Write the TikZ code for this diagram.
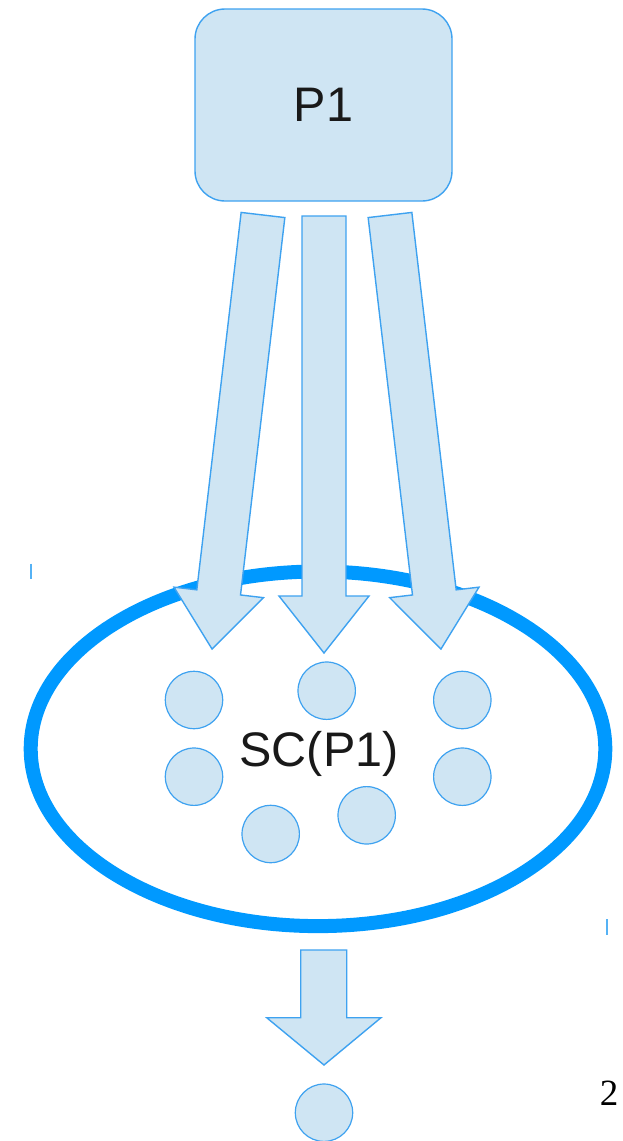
\documentclass[tikz,border=0pt]{standalone}
\usepackage{fontspec}
\setmainfont{Liberation Sans}
\newfontfamily\pagenumfont{Liberation Serif}
\usetikzlibrary{shapes.geometric}

\definecolor{paleblue}{HTML}{CFE5F3}
\definecolor{edgeblue}{HTML}{3EA2F0}
\definecolor{ringblue}{HTML}{0099FF}
\definecolor{tickblue}{HTML}{55B2F5}

\tikzset{
  shapefill/.style={fill=paleblue, draw=edgeblue, line width=1.4pt, line join=miter},
  procbox/.style={shapefill, rounded corners=30pt, minimum width=257pt, minimum height=192pt, inner sep=0pt},
  member/.style={shapefill, line width=1.2pt, circle, minimum size=57.4pt, inner sep=0pt},
  bigtext/.style={font=\fontsize{48.5}{48.5}\selectfont, text=black!90, inner sep=0pt},
  ring/.style={draw=ringblue, line width=14pt, ellipse, inner sep=0pt},
  tickmark/.style={draw=tickblue, line width=2pt},
  blockarrow/.pic={
    \draw[shapefill] (-22,0) -- (22,0) -- (22,380) -- (45,380) -- (0,437)
      -- (-45,380) -- (-22,380) -- cycle;
  },
}

\begin{document}
\begin{tikzpicture}[x=1pt, y=-1pt]
  \useasboundingbox (0,0) rectangle (622,1141);

  % process box
  \node[procbox] (p1) at (323.5,105) {};
  \node[bigtext] (p1label) at (p1.center) {P1};

  % the set around the members
  \node[ring, minimum width=574.6pt, minimum height=354.6pt] (sc) at (318,748.8) {};

  % three block arrows from the box into the set
  \pic[rotate=-6.7] (leftarrow) at (263,215) {blockarrow};
  \pic (midarrow) at (324,216) {blockarrow};
  \pic[rotate=6.7] (rightarrow) at (390,215) {blockarrow};

  % members of the set
  \node[member] (m1) at (194,700) {};
  \node[member] (m2) at (326.7,690.7) {};
  \node[member] (m3) at (462.3,700) {};
  \node[member] (m4) at (194,776.7) {};
  \node[member] (m5) at (462.3,776.7) {};
  \node[member] (m6) at (270.7,834) {};
  \node[member] (m7) at (366.7,815.3) {};
  \node[bigtext, anchor=base] (sclabel) at (319,766) {SC(P1)};

  % block arrow out of the set
  \draw[shapefill] (300.7,950) -- (346.7,950) -- (346.7,1017.7) -- (381,1017.7)
    -- (324,1065) -- (266.7,1017.7) -- (300.7,1017.7) -- cycle;
  \node[member] (out) at (324,1112.7) {};

  % small marks
  \draw[tickmark] (31.3,563.5) -- (31.3,579);
  \draw[tickmark] (606.7,919) -- (606.7,934.5);

  % page number
  \node[font=\pagenumfont\fontsize{37}{37}\selectfont, inner sep=0pt, anchor=base] (pagenum) at (609.2,1105) {2};
\end{tikzpicture}
\end{document}
